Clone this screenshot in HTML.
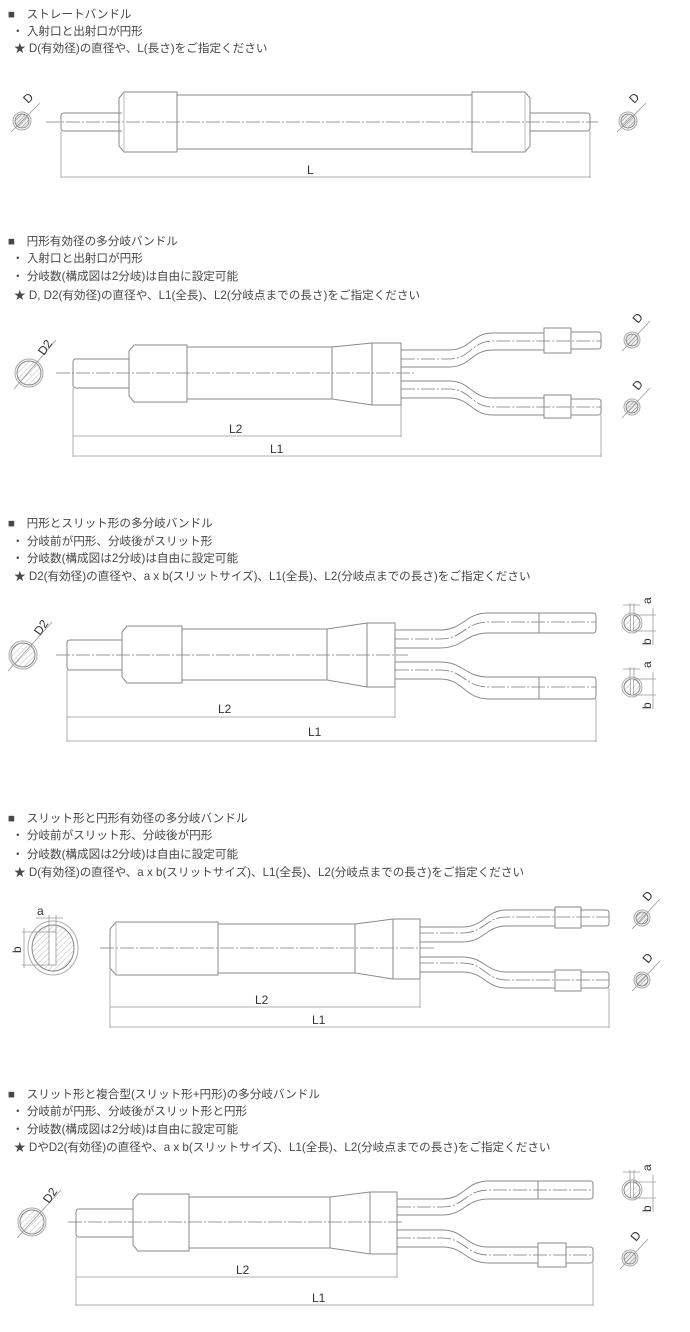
<!DOCTYPE html>
<html><head><meta charset="utf-8"><style>
html,body{margin:0;padding:0;background:#fff}
svg{display:block}
.t{font-family:"Liberation Sans","Noto Sans CJK JP",sans-serif;font-size:11.6px;fill:#484848}
.l{stroke:#8a8a8a;stroke-width:1;fill:none}
.lt{stroke:#bbb;stroke-width:1;fill:none}
.c{stroke:#777;stroke-width:0.8;fill:none;stroke-dasharray:14 2 2 2}
.d{stroke:#999;stroke-width:0.8;fill:none}
.lb{font-family:"Liberation Sans",sans-serif;font-size:12px;fill:#333}
</style></head><body>
<svg width="690" height="1332" viewBox="0 0 690 1332" xmlns="http://www.w3.org/2000/svg">
<defs>
<pattern id="h" width="3" height="3" patternUnits="userSpaceOnUse" patternTransform="rotate(45)">
<rect width="3" height="3" fill="#eee"/><line x1="0" y1="0" x2="0" y2="3" stroke="#888" stroke-width="1"/></pattern>
<pattern id="h2" width="4" height="4" patternUnits="userSpaceOnUse" patternTransform="rotate(45)">
<rect width="4" height="4" fill="#fff"/><line x1="0" y1="0" x2="0" y2="4" stroke="#aaa" stroke-width="0.8"/></pattern>
</defs>

<text class="t" x="8" y="18">■　ストレートバンドル</text>
<text class="t" x="12" y="35">・ 入射口と出射口が円形</text>
<text class="t" x="14" y="52">★ D(有効径)の直径や、L(長さ)をご指定ください</text>

<g>
<line class="c" x1="46" y1="122" x2="598" y2="122"/>
<path class="l" d="M122,113 H64 Q61,113 61,116 V128 Q61,131 64,131 H122"/>
<path class="l" d="M124,92 H177 V152 H124 L119,146 V98 Z"/>
<line class="lt" x1="124" y1="92" x2="124" y2="152"/>
<path class="l" d="M177,95 H472 M177,149 H472"/>
<path class="l" d="M472,92 H525 L530,98 V146 L525,152 H472 Z"/>
<line class="lt" x1="525" y1="92" x2="525" y2="152"/>
<path class="l" d="M530,113 H587 Q590,113 590,116 V128 Q590,131 587,131 H530"/>
<path class="d" d="M61,131 V178 M590,131 V178 M61,177 H590"/>
<text class="lb" x="307" y="174">L</text>
<circle cx="22" cy="121" r="9" fill="#fff" stroke="#aaa"/>
<circle cx="22" cy="121" r="7" fill="url(#h)" stroke="#888"/>
<line class="d" x1="11" y1="132" x2="40" y2="103"/>
<text class="lb" transform="translate(28,104) rotate(-45)">D</text>
<circle cx="628" cy="121" r="9" fill="#fff" stroke="#aaa"/>
<circle cx="628" cy="121" r="7" fill="url(#h)" stroke="#888"/>
<line class="d" x1="617" y1="132" x2="646" y2="103"/>
<text class="lb" transform="translate(634,104) rotate(-45)">D</text>
</g>

<text class="t" x="8" y="245">■　円形有効径の多分岐バンドル</text>
<text class="t" x="12" y="262">・ 入射口と出射口が円形</text>
<text class="t" x="12" y="280">・ 分岐数(構成図は2分岐)は自由に設定可能</text>
<text class="t" x="14" y="299">★ D, D2(有効径)の直径や、L1(全長)、L2(分岐点までの長さ)をご指定ください</text>

<g>
<line class="c" x1="56" y1="373" x2="414" y2="373"/>
<path class="l" d="M129,359 H76 Q73,359 73,362 V385 Q73,388 76,388 H129"/>
<path class="l" d="M134,345 H187 V402 H134 L129,396 V351 Z"/>
<path class="l" d="M187,347 H332 M187,399 H332 M332,347 V399 L372,405 M332,347 L372,343"/>
<rect class="l" x="372" y="343" width="29" height="62"/>
<path class="l" d="M401,350 H449 C471,350 471,333 493,333 H544"/>
<path class="c" d="M401,359 H449 C471,359 471,341 493,341 H601"/>
<path class="l" d="M401,367 H449 C471,367 471,350 493,350 H544"/>
<rect class="l" x="544" y="328" width="27" height="25"/>
<path class="l" d="M571,332 H598 Q601,332 601,335 V346 Q601,349 598,349 H571"/>
<path class="l" d="M401,381 H449 C471,381 471,398 493,398 H544"/>
<path class="c" d="M401,389 H449 C471,389 471,407 493,407 H601"/>
<path class="l" d="M401,398 H449 C471,398 471,415 493,415 H544"/>
<rect class="l" x="544" y="395" width="27" height="23"/>
<path class="l" d="M571,399 H598 Q601,399 601,402 V412 Q601,415 598,415 H571"/>
<path class="d" d="M73,388 V457 M401,405 V437 M601,415 V457 M73,436 H401 M73,456 H601"/>
<text class="lb" x="229" y="433">L2</text>
<text class="lb" x="270" y="453">L1</text>
<ellipse cx="29" cy="373" rx="14" ry="14" fill="#fff" stroke="#aaa"/>
<ellipse cx="29" cy="373" rx="12" ry="12" fill="url(#h2)" stroke="#888"/>
<line class="d" x1="14" y1="389" x2="56" y2="340"/>
<text class="lb" transform="translate(44,356) rotate(-55)">D2</text>
<circle cx="632" cy="340" r="8" fill="#fff" stroke="#aaa"/>
<circle cx="632" cy="340" r="6" fill="url(#h)" stroke="#888"/>
<line class="d" x1="622" y1="351" x2="650" y2="321"/>
<text class="lb" transform="translate(638,324) rotate(-50)">D</text>
<circle cx="632" cy="407" r="8" fill="#fff" stroke="#aaa"/>
<circle cx="632" cy="407" r="6" fill="url(#h)" stroke="#888"/>
<line class="d" x1="622" y1="418" x2="650" y2="388"/>
<text class="lb" transform="translate(638,391) rotate(-50)">D</text>
</g>

<text class="t" x="8" y="527">■　円形とスリット形の多分岐バンドル</text>
<text class="t" x="12" y="545">・ 分岐前が円形、分岐後がスリット形</text>
<text class="t" x="12" y="562">・ 分岐数(構成図は2分岐)は自由に設定可能</text>
<text class="t" x="14" y="580">★ D2(有効径)の直径や、a x b(スリットサイズ)、L1(全長)、L2(分岐点までの長さ)をご指定ください</text>

<g>
<line class="c" x1="56" y1="655" x2="408" y2="655"/>
<path class="l" d="M122,640 H70 Q67,640 67,643 V667 Q67,670 70,670 H122"/>
<path class="l" d="M127,626 H182 V683 H127 L122,677 V632 Z"/>
<path class="l" d="M182,629 H327 M182,680 H327 M327,629 V680 L367,687 M327,629 L367,623"/>
<rect class="l" x="367" y="623" width="28" height="64"/>
<path class="l" d="M395,630 H440 C464,630 464,613 489,613 H539"/>
<path class="c" d="M395,639 H440 C464,639 464,622 489,622 H596"/>
<path class="l" d="M395,648 H440 C464,648 464,633 489,633 H539"/>
<path class="l" d="M539,613 H593 Q596,613 596,616 V630 Q596,633 593,633 H539 Z"/>
<path class="l" d="M395,662 H440 C464,662 464,677 489,677 H539"/>
<path class="c" d="M395,670 H440 C464,670 464,687 489,687 H596"/>
<path class="l" d="M395,679 H440 C464,679 464,699 489,699 H539"/>
<path class="l" d="M539,677 H593 Q596,677 596,680 V696 Q596,699 593,699 H539 Z"/>
<path class="d" d="M67,670 V742 M395,687 V718 M596,699 V742 M67,717 H395 M67,741 H596"/>
<text class="lb" x="218" y="713">L2</text>
<text class="lb" x="308" y="736">L1</text>
<ellipse cx="23" cy="655" rx="14" ry="14" fill="#fff" stroke="#aaa"/>
<ellipse cx="23" cy="655" rx="12" ry="12" fill="url(#h2)" stroke="#888"/>
<line class="d" x1="8" y1="671" x2="52" y2="622"/>
<text class="lb" transform="translate(40,636) rotate(-55)">D2</text>
<g id="s1">
<circle cx="632" cy="623" r="10" fill="#fff" stroke="#aaa"/>
<circle cx="632" cy="623" r="8" fill="url(#h2)" stroke="#888"/>
<rect x="630.5" y="615" width="3" height="16" fill="#fff" stroke="#888" stroke-width="0.6"/>
<path class="d" d="M623,605 H640 M630,603 V616 M634,603 V616 M633,615 H656 M633,631 H656 M653,608 V645"/>
<text class="lb" transform="translate(651,604) rotate(-90)">a</text>
<text class="lb" transform="translate(651,645) rotate(-90)">b</text>
</g>
<use href="#s1" transform="translate(0,64)"/>
</g>

<text class="t" x="8" y="822">■　スリット形と円形有効径の多分岐バンドル</text>
<text class="t" x="12" y="839">・ 分岐前がスリット形、分岐後が円形</text>
<text class="t" x="12" y="858">・ 分岐数(構成図は2分岐)は自由に設定可能</text>
<text class="t" x="14" y="876">★ D(有効径)の直径や、a x b(スリットサイズ)、L1(全長)、L2(分岐点までの長さ)をご指定ください</text>

<g>
<line class="c" x1="100" y1="948" x2="434" y2="948"/>
<path class="l" d="M116,922 H218 V975 H116 L110,968 V929 Z"/>
<line class="lt" x1="116" y1="922" x2="116" y2="975"/>
<path class="l" d="M218,924 H355 M218,973 H355 M355,924 V973 L393,979 M355,924 L393,919"/>
<rect class="l" x="393" y="919" width="27" height="60"/>
<path class="l" d="M420,927 H462 C485,927 485,910 507,910 H555"/>
<path class="c" d="M420,933 H462 C485,933 485,917 507,917 H609"/>
<path class="l" d="M420,942 H462 C485,942 485,926 507,926 H555"/>
<rect class="l" x="555" y="907" width="26" height="21"/>
<path class="l" d="M581,910 H606 Q609,910 609,913 V923 Q609,926 606,926 H581"/>
<path class="l" d="M420,957 H462 C485,957 485,972 507,972 H555"/>
<path class="c" d="M420,963 H462 C485,963 485,980 507,980 H609"/>
<path class="l" d="M420,972 H462 C485,972 485,988 507,988 H555"/>
<rect class="l" x="555" y="970" width="26" height="21"/>
<path class="l" d="M581,972 H606 Q609,972 609,975 V985 Q609,988 606,988 H581"/>
<path class="d" d="M110,968 V1028 M420,979 V1008 M609,988 V1028 M110,1007 H420 M110,1027 H609"/>
<text class="lb" x="255" y="1004">L2</text>
<text class="lb" x="312" y="1024">L1</text>
<ellipse cx="53" cy="948" rx="25" ry="27" fill="#fff" stroke="#aaa"/>
<ellipse cx="53" cy="948" rx="21" ry="23" fill="url(#h2)" stroke="#888"/>
<rect x="49" y="932" width="7" height="33" fill="#fff" stroke="#888" stroke-width="0.7"/>
<path class="d" d="M36,918 H63 M49,915 V932 M56,915 V932 M22,932 H49 M22,965 H49 M24,928 V968"/>
<text class="lb" x="37" y="915">a</text>
<text class="lb" transform="translate(21,953) rotate(-90)">b</text>
<circle cx="642" cy="918" r="8" fill="#fff" stroke="#aaa"/>
<circle cx="642" cy="918" r="6" fill="url(#h)" stroke="#888"/>
<line class="d" x1="632" y1="929" x2="660" y2="899"/>
<text class="lb" transform="translate(648,902) rotate(-50)">D</text>
<circle cx="642" cy="980" r="8" fill="#fff" stroke="#aaa"/>
<circle cx="642" cy="980" r="6" fill="url(#h)" stroke="#888"/>
<line class="d" x1="632" y1="991" x2="660" y2="961"/>
<text class="lb" transform="translate(648,964) rotate(-50)">D</text>
</g>

<text class="t" x="8" y="1098">■　スリット形と複合型(スリット形+円形)の多分岐バンドル</text>
<text class="t" x="12" y="1115">・ 分岐前が円形、分岐後がスリット形と円形</text>
<text class="t" x="12" y="1133">・ 分岐数(構成図は2分岐)は自由に設定可能</text>
<text class="t" x="14" y="1151">★ DやD2(有効径)の直径や、a x b(スリットサイズ)、L1(全長)、L2(分岐点までの長さ)をご指定ください</text>

<g>
<line class="c" x1="68" y1="1222" x2="404" y2="1222"/>
<path class="l" d="M133,1209 H79 Q76,1209 76,1212 V1234 Q76,1237 79,1237 H133"/>
<path class="l" d="M138,1194 H189 V1251 H138 L133,1245 V1200 Z"/>
<path class="l" d="M189,1197 H330 M189,1248 H330 M330,1197 V1248 L370,1254 M330,1197 L370,1192"/>
<rect class="l" x="370" y="1192" width="27" height="62"/>
<path class="l" d="M397,1199 H442 C465,1199 465,1181 489,1181 H538"/>
<path class="c" d="M397,1207 H442 C465,1207 465,1190 489,1190 H593"/>
<path class="l" d="M397,1215 H442 C465,1215 465,1199 489,1199 H538"/>
<path class="l" d="M538,1181 H590 Q593,1181 593,1184 V1196 Q593,1199 590,1199 H538 Z"/>
<path class="l" d="M397,1230 H442 C465,1230 465,1247 489,1247 H538"/>
<path class="c" d="M397,1238 H442 C465,1238 465,1255 489,1255 H593"/>
<path class="l" d="M397,1247 H442 C465,1247 465,1263 489,1263 H538"/>
<rect class="l" x="538" y="1243" width="28" height="24"/>
<path class="l" d="M566,1247 H590 Q593,1247 593,1250 V1260 Q593,1263 590,1263 H566"/>
<path class="d" d="M76,1237 V1306 M397,1254 V1278 M593,1263 V1306 M76,1277 H397 M76,1305 H593"/>
<text class="lb" x="236" y="1274">L2</text>
<text class="lb" x="312" y="1302">L1</text>
<ellipse cx="32" cy="1222" rx="14" ry="14" fill="#fff" stroke="#aaa"/>
<ellipse cx="32" cy="1222" rx="12" ry="12" fill="url(#h2)" stroke="#888"/>
<line class="d" x1="17" y1="1238" x2="61" y2="1190"/>
<text class="lb" transform="translate(49,1204) rotate(-55)">D2</text>
<use href="#s1" transform="translate(0,567)"/>
<circle cx="630" cy="1258" r="8" fill="#fff" stroke="#aaa"/>
<circle cx="630" cy="1258" r="6" fill="url(#h)" stroke="#888"/>
<line class="d" x1="620" y1="1269" x2="648" y2="1239"/>
<text class="lb" transform="translate(636,1242) rotate(-50)">D</text>
</g>
</svg>
</body></html>
